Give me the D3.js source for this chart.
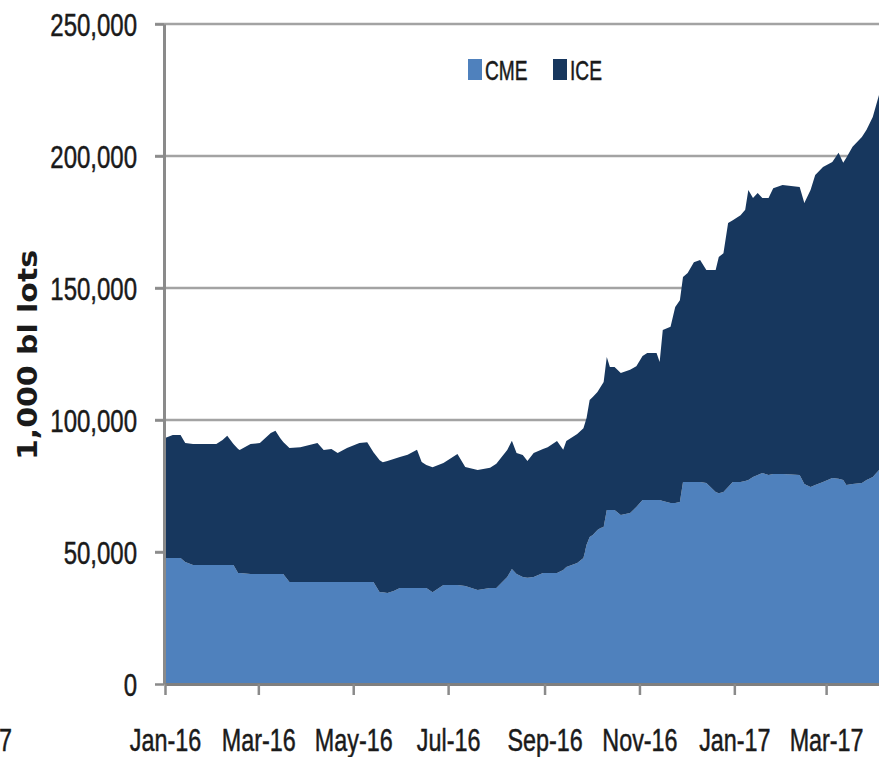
<!DOCTYPE html>
<html><head><meta charset="utf-8">
<script src="https://cdn.jsdelivr.net/npm/d3@7"></script>
<style>body{margin:0;background:#fff;} svg{display:block;}</style>
</head><body>
<svg id="c" width="879" height="757"></svg>
<script>
// ---- data ----
const dates = [
"2016-01-01","2016-01-06","2016-01-11","2016-01-14","2016-01-19","2016-01-27","2016-02-03","2016-02-07","2016-02-10","2016-02-14",
"2016-02-17","2016-02-18","2016-02-25","2016-03-02","2016-03-09","2016-03-12","2016-03-15","2016-03-17","2016-03-21","2016-03-28",
"2016-04-08","2016-04-12","2016-04-17","2016-04-21","2016-04-27","2016-05-05","2016-05-10","2016-05-14","2016-05-18","2016-05-20",
"2016-05-23","2016-05-27","2016-05-31","2016-06-05","2016-06-11","2016-06-14","2016-06-17","2016-06-21","2016-06-28","2016-07-04",
"2016-07-07","2016-07-12","2016-07-20","2016-07-28","2016-08-01","2016-08-08","2016-08-11","2016-08-14","2016-08-18","2016-08-21",
"2016-08-25","2016-08-31","2016-09-03","2016-09-09","2016-09-13","2016-09-15","2016-09-22","2016-09-26","2016-09-28","2016-09-30",
"2016-10-02","2016-10-05","2016-10-07","2016-10-09","2016-10-11","2016-10-13","2016-10-16","2016-10-20","2016-10-26","2016-10-30",
"2016-11-03","2016-11-06","2016-11-12","2016-11-14","2016-11-16","2016-11-21","2016-11-24","2016-11-27","2016-11-29","2016-12-02",
"2016-12-06","2016-12-10","2016-12-14","2016-12-20","2016-12-22","2016-12-25","2016-12-28","2016-12-31","2017-01-05","2017-01-08",
"2017-01-10","2017-01-13","2017-01-16","2017-01-19","2017-01-23","2017-01-26","2017-02-01","2017-02-12","2017-02-15","2017-02-19",
"2017-02-22","2017-02-27","2017-03-05","2017-03-09","2017-03-12","2017-03-14","2017-03-18","2017-03-24","2017-03-27","2017-03-31",
"2017-04-04"];
const cme = [
47700,47700,47700,46200,45100,45100,45100,45100,45100,45100,
42000,42000,41700,41700,41700,41700,41700,41700,38600,38600,
38600,38600,38600,38600,38600,38600,38600,38600,34800,34800,
34500,35200,36400,36400,36400,36400,36400,34800,37500,37500,
37500,37100,35600,36400,36400,40500,43600,41700,40500,40200,
40500,42000,42000,42000,43200,44300,45800,47700,52700,55700,
56400,58300,59100,59500,65900,65900,65900,64000,64800,67000,
69700,69700,69700,69700,69300,68600,68600,68900,76500,76500,
76500,76500,76100,72700,72300,72700,74600,76500,76500,76900,
77300,78400,79200,79900,79200,79500,79500,79200,75800,74600,
75400,76500,78000,77700,77300,75400,75800,76100,77300,78400,
81100];
const ice = [
45500,46600,46600,45100,45800,45800,45800,47300,48900,45800,
47000,46600,49200,49600,53400,54200,51500,50000,50800,51100,
52700,50000,50400,48900,50800,52700,53000,49200,50000,49200,
50000,50000,49600,50400,52300,47700,46600,47300,46200,48500,
49600,45100,45500,45500,47000,48100,48500,45800,46200,44300,
47000,47000,47700,50000,45500,47700,48900,49200,48100,51900,
52300,52300,53400,54900,58000,54200,54200,53800,54200,53400,
54500,55700,55700,52300,64800,66700,74200,76500,77700,79200,
83300,84100,80700,84100,89400,90500,100000,99200,101100,102700,
109800,105700,106800,104200,104900,108300,109500,109100,106400,112500,
117400,119300,119700,123500,120100,123900,127700,131100,132600,136400,
142000];
const seriesNames = ["CME","ICE"];
const seriesColors = ["#4f81bd","#17375e"];
const yTicks = [0,50000,100000,150000,200000,250000];
const xTickDates = ["2016-01-01","2016-03-01","2016-05-01","2016-07-01","2016-09-01","2016-11-01","2017-01-01","2017-03-01"];
const xDomain = ["2016-01-01","2017-04-04"];
const yTitle = "1,000 bl lots";

// ---- chart ----
const parse = d3.timeParse("%Y-%m-%d");
const rows = dates.map((d,i)=>({date:parse(d), CME:cme[i], ICE:ice[i]}));
const svg = d3.select("#c");
const sans = "'Liberation Sans',Arial,sans-serif";
const ink = "#1a1a1a";

const x = d3.scaleTime().domain(xDomain.map(parse)).range([165, 879]);
const y = d3.scaleLinear().domain([0,250000]).range([684, 24]);

// gridlines
svg.append("g").selectAll("line").data(yTicks.filter(v=>v>0)).join("line")
  .attr("x1",155).attr("x2",879).attr("y1",d=>y(d)).attr("y2",d=>y(d))
  .attr("stroke","#a3a3a3").attr("stroke-width",2.5);

// stacked areas
const stack = d3.stack().keys(seriesNames);
const layers = stack(rows);
const area = d3.area().x(d=>x(d.data.date)).y0(d=>y(d[0])).y1(d=>y(d[1])).curve(d3.curveLinear);
svg.append("g").selectAll("path").data(layers).join("path")
  .attr("d",area).attr("fill",(d,i)=>seriesColors[i]);

// y axis
const yAxis = svg.append("g").attr("transform","translate(164,0)")
  .call(d3.axisLeft(y).tickValues(yTicks).tickSize(9).tickSizeOuter(0).tickFormat(d3.format(",")));
yAxis.select(".domain").attr("stroke","#8a8a8a").attr("stroke-width",3);
yAxis.selectAll(".tick line").attr("stroke","#8a8a8a").attr("stroke-width",2.5);
const ysx = 0.75;
yAxis.selectAll(".tick text")
  .attr("font-family",sans).attr("font-size",32).attr("fill",ink)
  .attr("stroke",ink).attr("stroke-width",0.5)
  .attr("x",-27/ysx).attr("dy","0.36em").attr("transform",`scale(${ysx},1)`);

// x axis
const xAxis = svg.append("g").attr("transform","translate(0,684)")
  .call(d3.axisBottom(x).tickValues(xTickDates.map(parse)).tickSize(11).tickSizeOuter(0).tickFormat(d3.timeFormat("%b-%y")));
xAxis.select(".domain").attr("stroke","#7f7f7f").attr("stroke-width",3);
xAxis.selectAll(".tick line").attr("stroke","#8a8a8a").attr("stroke-width",2.5);
const xsx = 0.73;
xAxis.selectAll(".tick text")
  .attr("font-family",sans).attr("font-size",32).attr("fill",ink)
  .attr("stroke",ink).attr("stroke-width",0.5)
  .attr("y",67).attr("dy",0).attr("transform",`scale(${xsx},1)`);

// cropped label fragment at left edge
svg.append("text").attr("transform","translate(12,751) scale(0.73,1)").attr("text-anchor","end")
  .attr("font-family",sans).attr("font-size",32).attr("fill",ink)
  .attr("stroke",ink).attr("stroke-width",0.5).text("7");

// y title
svg.append("text").attr("transform","translate(37,355) rotate(-90)")
  .attr("text-anchor","middle").attr("font-family","'DejaVu Sans',sans-serif")
  .attr("font-weight","bold").attr("font-size",26).attr("fill",ink)
  .attr("textLength",210).attr("lengthAdjust","spacingAndGlyphs").text(yTitle);

// legend
const legendX = [468, 553];
const lg = svg.append("g").selectAll("g").data(seriesNames).join("g")
  .attr("transform",(d,i)=>`translate(${legendX[i]},0)`);
lg.append("rect").attr("x",0).attr("y",59).attr("width",14).attr("height",21)
  .attr("fill",(d,i)=>seriesColors[i]);
lg.append("text").attr("transform","translate(17,80) scale(0.71,1)")
  .attr("font-family",sans).attr("font-size",27).attr("fill",ink)
  .attr("stroke",ink).attr("stroke-width",0.5).text(d=>d);
</script>
</body></html>
